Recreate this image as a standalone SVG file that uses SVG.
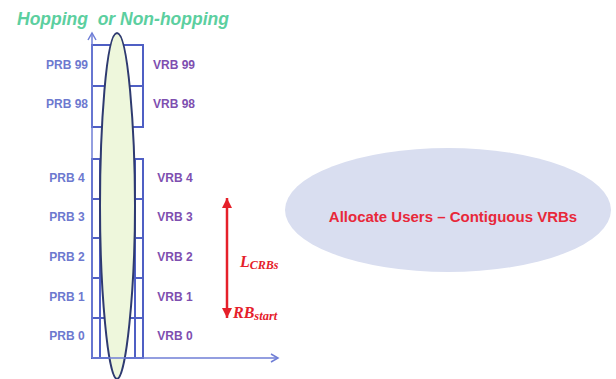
<svg xmlns="http://www.w3.org/2000/svg" width="616" height="379" viewBox="0 0 616 379">
<style>
.bx{fill:none;stroke:#4f5fc4;stroke-width:2}
.prb{font-family:"Liberation Sans",Arial,sans-serif;font-weight:bold;font-size:12px;fill:#6d79cf;text-anchor:middle}
.vrb{font-family:"Liberation Sans",Arial,sans-serif;font-weight:bold;font-size:12px;fill:#7e4fb0;text-anchor:middle}
.axis{stroke:#6f7ed6;stroke-width:1.5;fill:none}
.red{stroke:#e5202a;stroke-width:2.5;fill:none}
.math{font-family:"Liberation Serif","Times New Roman",serif;font-weight:bold;font-style:italic;fill:#e5202a}
</style>
<defs>
<marker id="open" markerWidth="10" markerHeight="10" refX="8" refY="5" orient="auto" markerUnits="userSpaceOnUse">
<path d="M1,1 L8,5 L1,9" fill="none" stroke="#6f7ed6" stroke-width="1.5"/>
</marker>
<marker id="tri" markerWidth="12" markerHeight="12" refX="10" refY="6" orient="auto" markerUnits="userSpaceOnUse">
<path d="M0,1 L10,6 L0,11 Z" fill="#e5202a"/>
</marker>
</defs>
<rect width="616" height="379" fill="#ffffff"/>
<text x="17" y="25" font-family="Liberation Sans,Arial,sans-serif" font-weight="bold" font-style="italic" font-size="17.5" fill="#5ccf9f" xml:space="preserve">Hopping  or Non-hopping</text>
<g id="rb-grid">
<rect class="bx" x="92" y="45" width="51" height="41"/>
<rect class="bx" x="92" y="86" width="51" height="41"/>
<rect class="bx" x="92" y="159" width="51" height="40"/>
<rect class="bx" x="92" y="199" width="51" height="39"/>
<rect class="bx" x="92" y="238" width="51" height="40"/>
<rect class="bx" x="92" y="278" width="51" height="40"/>
<rect class="bx" x="92" y="318" width="51" height="40"/>
<line class="bx" x1="100" y1="159" x2="100" y2="358"/>
<line class="bx" x1="135" y1="159" x2="135" y2="358"/>
</g>
<g id="mapping-ellipse">
<path d="M117,33 C106,33 100,130 100,206 C100,290 108,379 117,379 C126,379 135,290 135,206 C135,130 128,33 117,33 Z" fill="#eef7dc" stroke="#2e3a70" stroke-width="2"/>
</g>
<g id="prb-labels">
<text class="prb" x="67" y="69">PRB 99</text>
<text class="prb" x="67" y="108">PRB 98</text>
<text class="prb" x="67" y="182">PRB 4</text>
<text class="prb" x="67" y="221">PRB 3</text>
<text class="prb" x="67" y="261">PRB 2</text>
<text class="prb" x="67" y="301">PRB 1</text>
<text class="prb" x="67" y="340">PRB 0</text>
</g>
<g id="vrb-labels">
<text class="vrb" x="174" y="69">VRB 99</text>
<text class="vrb" x="174" y="108">VRB 98</text>
<text class="vrb" x="175" y="182">VRB 4</text>
<text class="vrb" x="175" y="221">VRB 3</text>
<text class="vrb" x="175" y="261">VRB 2</text>
<text class="vrb" x="175" y="301">VRB 1</text>
<text class="vrb" x="175" y="340">VRB 0</text>
</g>
<g id="connectors">
<line class="axis" x1="92" y1="358" x2="92" y2="33" marker-end="url(#open)"/>
<line class="axis" x1="92" y1="358" x2="278" y2="358" marker-end="url(#open)"/>
<line class="red" x1="227" y1="258" x2="227" y2="198" marker-end="url(#tri)"/>
<line class="red" x1="227" y1="258" x2="227" y2="318" marker-end="url(#tri)"/>
</g>
<g id="lcrbs-label">
<text class="math" x="240" y="267"><tspan font-size="16">L</tspan><tspan font-size="12" dy="2">CRBs</tspan></text>
</g>
<g id="rbstart-label">
<text class="math" x="233" y="318"><tspan font-size="16">RB</tspan><tspan font-size="12.5" dy="2">start</tspan></text>
</g>
<g id="allocate-node">
<ellipse cx="448" cy="210" rx="163" ry="62" fill="#d9def0"/>
<text x="453" y="222" font-family="Liberation Sans,Arial,sans-serif" font-weight="bold" font-size="15" fill="#e8283a" text-anchor="middle">Allocate Users – Contiguous VRBs</text>
</g>
</svg>
